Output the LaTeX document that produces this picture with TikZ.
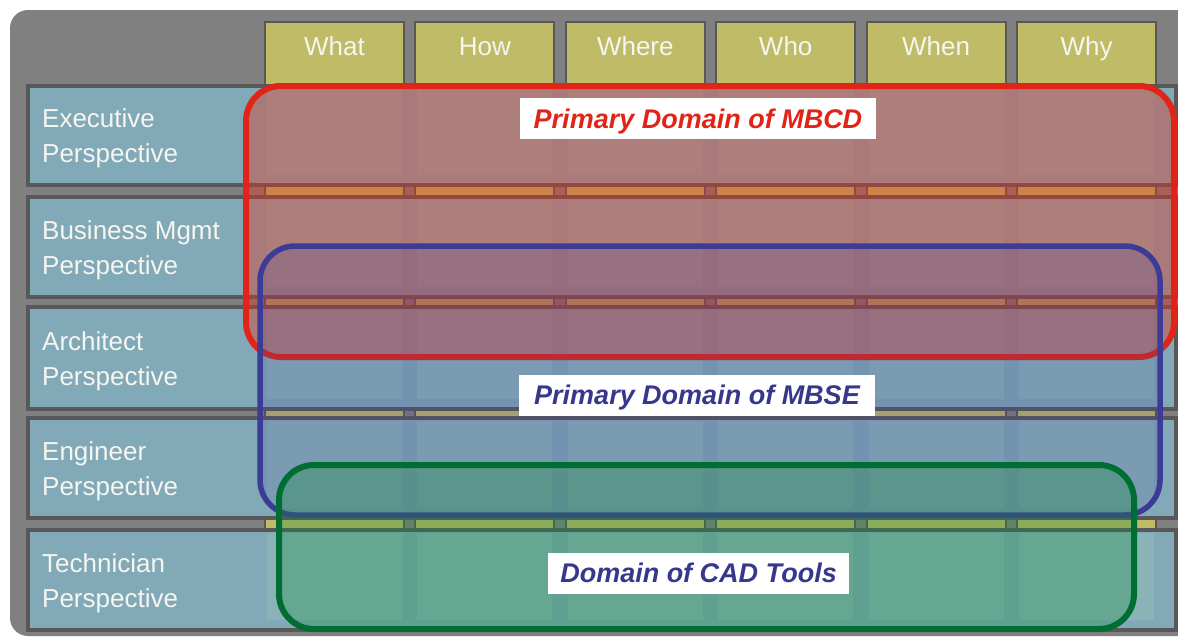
\documentclass[tikz,border=0pt]{standalone}
\usepackage{fontspec}
\setmainfont{Liberation Sans}
\definecolor{bggray}{RGB}{128,128,128}
\definecolor{olive}{RGB}{191,187,102}
\definecolor{rowblue}{RGB}{130,169,183}
\definecolor{cellblue}{RGB}{138,179,184}
\definecolor{darkedge}{RGB}{88,88,88}
\definecolor{txtwhite}{RGB}{246,246,240}
\definecolor{mbcdred}{RGB}{224,37,24}
\definecolor{mbcdfill}{RGB}{230,50,30}
\definecolor{mbseblue}{RGB}{60,60,150}
\definecolor{mbsetext}{RGB}{55,55,140}
\definecolor{cadgreen}{RGB}{0,110,50}
\definecolor{cadfill}{RGB}{20,140,60}
\begin{document}
\begin{tikzpicture}[x=1pt,y=-1pt,
  colbox/.style={fill=olive,draw=darkedge,line width=2pt},
  rowbox/.style={fill=rowblue,draw=darkedge,line width=3.5pt},
  cellbox/.style={fill=cellblue},
  headtxt/.style={text=txtwhite,font=\fontsize{26}{30}\selectfont,anchor=base,inner sep=0pt},
  rowtxt/.style={text=txtwhite,font=\fontsize{26}{35}\selectfont,anchor=west,align=left,inner sep=0pt},
  domainbox/.style={line width=6pt,rounded corners=35pt},
  domlabel/.style={fill=white,font=\fontsize{27}{30}\selectfont\bfseries\itshape,
     text height=19.5pt,text depth=0pt,inner sep=0pt,minimum height=41pt}
]
\useasboundingbox (0,0) rectangle (1178,637);
\clip (0,0) rectangle (1178,637);
\fill[white] (0,0) rectangle (1178,637);
\fill[bggray,rounded corners=18pt] (10,10) rectangle (1196,636);
% columns
\foreach \i in {0,...,5}{
  \pgfmathsetmacro{\xa}{265+150.4*\i}
  \draw[colbox] (\xa,22) rectangle ++(139,606);
}
% rows
\foreach \ya/\yb in {86/185,197/297,307/409,418/518,530/630}{
  \draw[rowbox] (28,\ya) rectangle (1176,\yb);
  \foreach \i in {0,...,5}{
    \pgfmathsetmacro{\xa}{267+150.4*\i}
    \fill[cellbox] (\xa,\ya+2.5) rectangle ++(135,\yb-\ya-13);
  }
}
% header texts
\node[headtxt] (hWhat)  at (334.5,55) {What};
\node[headtxt] (hHow)   at (484.9,55) {How};
\node[headtxt] (hWhere) at (635.3,55) {Where};
\node[headtxt] (hWho)   at (785.7,55) {Who};
\node[headtxt] (hWhen)  at (936.1,55) {When};
\node[headtxt] (hWhy)   at (1086.5,55) {Why};
% row labels
\node[rowtxt] (rExec) at (42,138.5) {Executive\\Perspective};
\node[rowtxt] (rBus)  at (42,250) {Business Mgmt\\Perspective};
\node[rowtxt] (rArch) at (42,361) {Architect\\Perspective};
\node[rowtxt] (rEng)  at (42,471) {Engineer\\Perspective};
\node[rowtxt] (rTech) at (42,583) {Technician\\Perspective};
% domains
\draw[domainbox,draw=mbcdred,fill=mbcdfill,fill opacity=0.4] (246,86) rectangle (1174,357);
\draw[domainbox,draw=mbseblue,fill=mbseblue,fill opacity=0.2,line width=5.5pt] (260,246) rectangle (1160,515);
\draw[domainbox,draw=cadgreen,fill=cadfill,fill opacity=0.3] (279,465) rectangle (1134,629);
% labels
\node[domlabel,text=mbcdred,minimum width=356pt] (lMBCD) at (698,118.5) {Primary Domain of MBCD};
\node[domlabel,text=mbsetext,minimum width=356pt] (lMBSE) at (697,395) {Primary Domain of MBSE};
\node[domlabel,text=mbsetext,minimum width=301pt] (lCAD) at (698.5,573) {Domain of CAD Tools};
\end{tikzpicture}
\end{document}
